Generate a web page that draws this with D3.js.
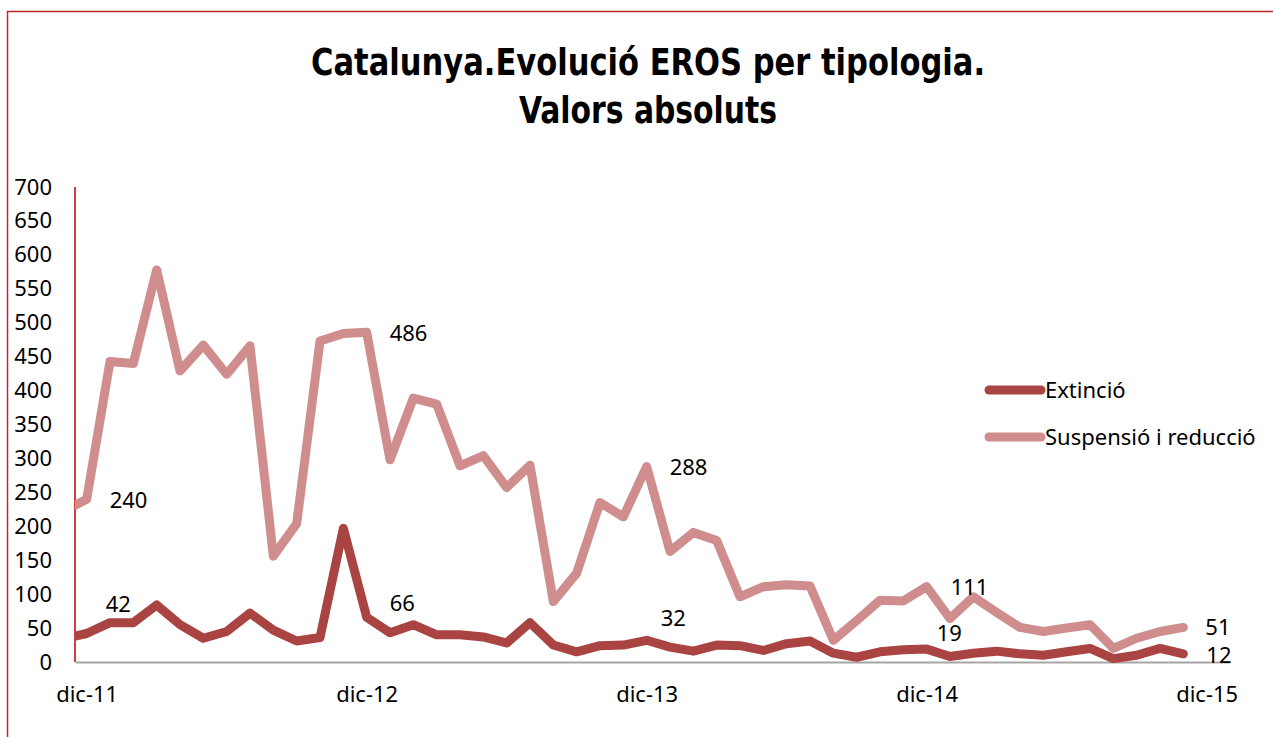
<!DOCTYPE html>
<html>
<head>
<meta charset="utf-8">
<script src="https://cdn.jsdelivr.net/npm/d3@7"></script>
<style>
  body { margin: 0; background: #fff; }
  svg { display: block; }
  .tick text { font-family: "Noto Sans", "DejaVu Sans", sans-serif; }
</style>
</head>
<body>
<div id="chart"></div>
<script>
// months (nov-11 is only partly visible at the left edge, dic-15 has no data yet)
const months = [
  'nov-11', 'dic-11',
  'gen-12', 'feb-12', 'mar-12', 'abr-12', 'mai-12', 'jun-12', 'jul-12', 'ago-12', 'set-12', 'oct-12', 'nov-12', 'dic-12',
  'gen-13', 'feb-13', 'mar-13', 'abr-13', 'mai-13', 'jun-13', 'jul-13', 'ago-13', 'set-13', 'oct-13', 'nov-13', 'dic-13',
  'gen-14', 'feb-14', 'mar-14', 'abr-14', 'mai-14', 'jun-14', 'jul-14', 'ago-14', 'set-14', 'oct-14', 'nov-14', 'dic-14',
  'gen-15', 'feb-15', 'mar-15', 'abr-15', 'mai-15', 'jun-15', 'jul-15', 'ago-15', 'set-15', 'oct-15', 'nov-15', 'dic-15'
];
const xTickLabels = ['dic-11', 'dic-12', 'dic-13', 'dic-14', 'dic-15'];
const yTicks = [0, 50, 100, 150, 200, 250, 300, 350, 400, 450, 500, 550, 600, 650, 700];

const extincio = [
  34, 42,
  58, 58, 84, 55, 35, 45, 72, 47, 31, 36, 197, 66,
  43, 55, 40, 40, 37, 28, 58, 25, 15, 24, 25, 32,
  22, 16, 25, 24, 17, 27, 31, 13, 7, 15, 18, 19,
  8, 13, 16, 12, 10, 15, 20, 5, 10, 20, 12
];
const suspensio = [
  222, 240,
  443, 440, 578, 429, 467, 424, 466, 156, 204, 473, 484, 486,
  298, 389, 380, 289, 304, 257, 290, 89, 131, 235, 214, 288,
  163, 191, 179, 96, 111, 114, 112, 32, 61, 91, 90, 111,
  64, 96, 73, 51, 45, 50, 55, 20, 35, 45, 51
];
// which months carry a value label
const labelMonths = ['dic-11', 'dic-12', 'dic-13', 'dic-14', 'nov-15'];

const series = [
  { name: 'Extinció', values: extincio, color: '#a94442' },
  { name: 'Suspensió i reducció', values: suspensio, color: '#cf8d8d' }
];

const W = 1273, H = 737;
const plotLeft = 75, plotRight = 1230, plotTop = 187, plotBottom = 662;
const first = months.indexOf('dic-11');

const svg = d3.select('#chart').append('svg')
  .attr('width', W)
  .attr('height', H);

// frame
svg.append('path')
  .attr('d', 'M7.5,' + H + 'V11.5H' + W)
  .attr('fill', 'none')
  .attr('stroke', '#c0282d')
  .attr('stroke-width', 1.5);

// title
const title = svg.append('g')
  .attr('font-family', '"DejaVu Sans Condensed", "DejaVu Sans", sans-serif')
  .attr('font-weight', 'bold')
  .attr('font-size', 38)
  .attr('text-anchor', 'middle')
  .attr('fill', '#000');
title.append('text').attr('x', 648).attr('y', 75)
  .attr('textLength', 674).attr('lengthAdjust', 'spacingAndGlyphs')
  .text('Catalunya.Evolució EROS per tipologia.');
title.append('text').attr('x', 648).attr('y', 123)
  .attr('textLength', 258).attr('lengthAdjust', 'spacingAndGlyphs')
  .text('Valors absoluts');

// scales: x is month offset from dic-11
const x = d3.scaleLinear().domain([-0.5, 49]).range([plotLeft, plotRight]);
const y = d3.scaleLinear().domain([0, 700]).range([plotBottom, plotTop]);

// y axis labels
const yAxis = svg.append('g')
  .attr('transform', 'translate(' + (plotLeft - 23) + ',0)')
  .call(d3.axisLeft(y).tickValues(yTicks).tickSize(0).tickPadding(0));
yAxis.select('.domain').remove();
yAxis.selectAll('text').attr('font-size', 22).attr('fill', '#000');

// x axis
const xAxis = svg.append('g')
  .attr('transform', 'translate(0,' + plotBottom + ')')
  .call(d3.axisBottom(x)
    .tickValues(xTickLabels.map(m => months.indexOf(m) - first))
    .tickFormat((d, i) => xTickLabels[i])
    .tickSize(0)
    .tickPadding(24));
xAxis.select('.domain').attr('stroke', '#a6a6a6').attr('stroke-width', 2);
xAxis.selectAll('text').attr('font-size', 22).attr('fill', '#000');

// red vertical axis line
svg.append('line')
  .attr('x1', plotLeft).attr('x2', plotLeft)
  .attr('y1', plotTop).attr('y2', plotBottom)
  .attr('stroke', '#c00000')
  .attr('stroke-width', 1.5);

svg.append('clipPath').attr('id', 'plot')
  .append('rect')
  .attr('x', plotLeft).attr('y', 0)
  .attr('width', plotRight - plotLeft).attr('height', H);

const line = d3.line()
  .x((d, i) => x(i - first))
  .y(d => y(d));

const plot = svg.append('g').attr('clip-path', 'url(#plot)');
// draw suspensió first so extinció sits on top
[series[1], series[0]].forEach(s => {
  plot.append('path')
    .datum(s.values)
    .attr('fill', 'none')
    .attr('stroke', s.color)
    .attr('stroke-width', 9)
    .attr('stroke-linejoin', 'round')
    .attr('stroke-linecap', 'round')
    .attr('d', line);
});

// value labels (offsets from the point, as placed in the original)
const labelOffsets = [
  [[19, -29], [23, -14], [14, -22], [10, -16], [23, 1]],
  [[23, 1], [23, 1], [23, 1], [24, 1], [22, 0]]
];
series.forEach((s, si) => {
  labelMonths.forEach((m, li) => {
    const i = months.indexOf(m);
    svg.append('text')
      .attr('x', x(i - first) + labelOffsets[si][li][0])
      .attr('y', y(s.values[i]) + labelOffsets[si][li][1])
      .attr('dy', '0.35em')
      .attr('font-family', '"Noto Sans", "DejaVu Sans", sans-serif')
      .attr('font-size', 22)
      .attr('fill', '#000')
      .text(s.values[i]);
  });
});

// legend
const legend = svg.append('g').attr('transform', 'translate(987,390)');
series.forEach((s, i) => {
  const g = legend.append('g').attr('transform', 'translate(0,' + i * 47 + ')');
  g.append('line')
    .attr('x1', 2).attr('x2', 54)
    .attr('stroke', s.color)
    .attr('stroke-width', 9)
    .attr('stroke-linecap', 'round');
  g.append('text')
    .attr('x', 58)
    .attr('dy', '0.35em')
    .attr('font-family', '"Noto Sans", "DejaVu Sans", sans-serif')
    .attr('font-size', 22)
    .attr('fill', '#000')
    .text(s.name);
});
</script>
</body>
</html>
